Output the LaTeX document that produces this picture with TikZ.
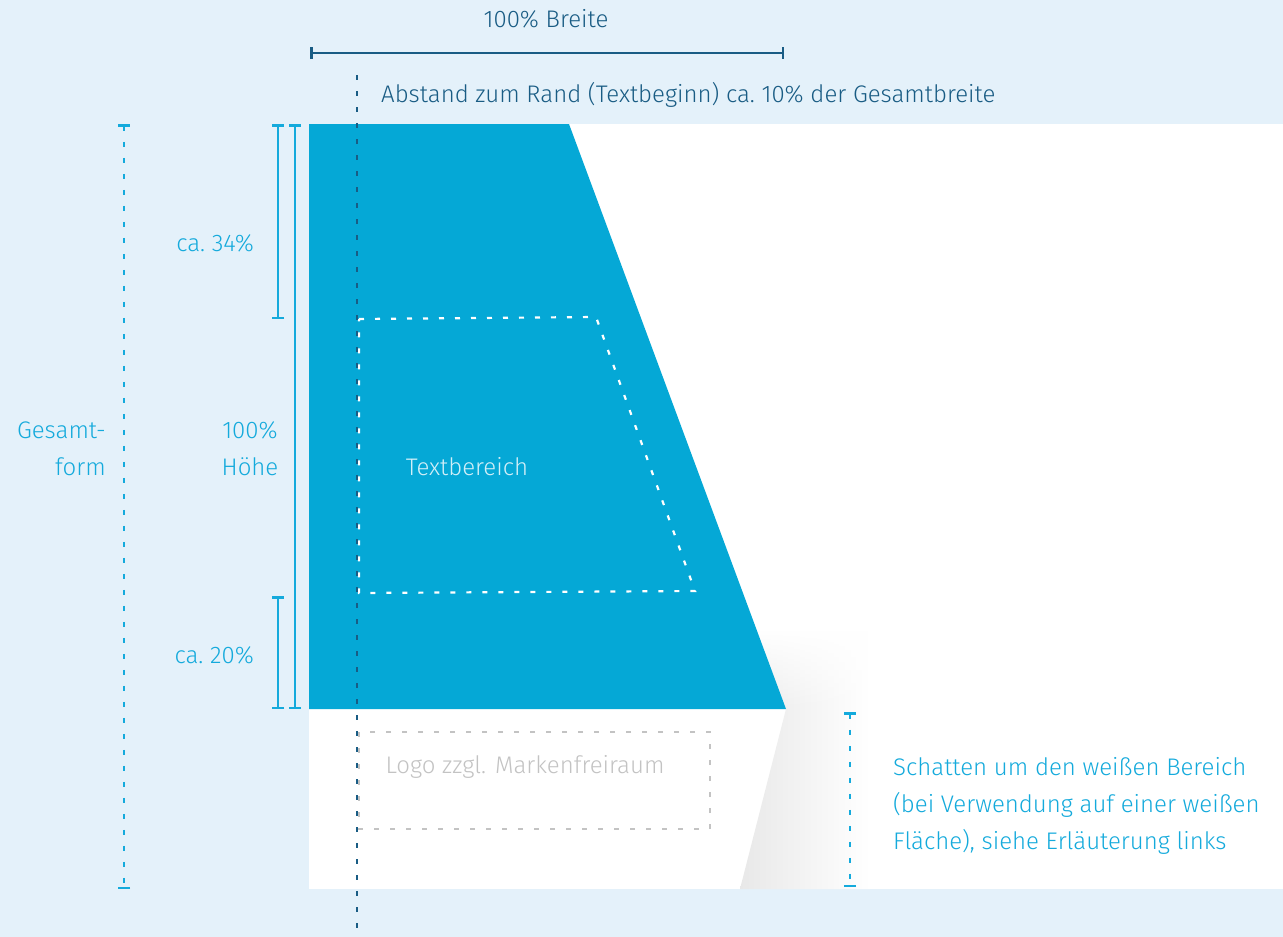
\documentclass[tikz,border=0pt]{standalone}
\usepackage{fontspec}
\setmainfont{Fira Sans}[UprightFont=* Light]
\usetikzlibrary{arrows.meta,fadings}
\definecolor{bgblue}{RGB}{228,241,250}
\definecolor{shapeblue}{RGB}{5,168,214}
\definecolor{lblue}{RGB}{20,170,220}
\definecolor{dblue}{RGB}{25,92,132}
\definecolor{logogray}{RGB}{195,195,195}
\begin{document}
\begin{tikzpicture}[x=1pt,y=-1pt,
  lbl/.style={font=\fontsize{24}{37}\selectfont, inner sep=0pt},
  solidbar/.style={line width=2pt, color=lblue, {Bar[width=12pt,line width=2.5pt]}-{Bar[width=12pt,line width=2.5pt]}},
  dotbar/.style={line width=2.8pt, color=lblue, dash pattern=on 5pt off 11pt, {Bar[width=12pt,line width=2.5pt]}-{Bar[width=12pt,line width=2.5pt]}},
  widthbar/.style={line width=2.4pt, color=dblue, {Bar[width=12pt,line width=2.5pt]}-{Bar[width=12pt,line width=2.5pt]}},
  marginline/.style={line width=2.8pt, color=dblue, dash pattern=on 5pt off 11pt},
  textarea/.style={line width=2.2pt, color=white, dash pattern=on 5pt off 11pt},
  logoarea/.style={line width=2.2pt, color=logogray, dash pattern=on 5pt off 11pt},
  shadowshade/.style={left color=black!9, right color=white}
]
\useasboundingbox (0,0) rectangle (1283,937);
\fill[bgblue] (0,0) rectangle (1283,937);
\fill[white] (309,124) rectangle (1283,889);
% shadow
\begin{scope}
  \clip (786,709) -- (740,889) -- (880,889) -- (880,709) -- cycle;
  \shade[shadowshade] (740,600) rectangle (870,889);
\end{scope}
\begin{scope}
  \clip (755,630) -- (786,709) -- (880,709) -- (880,630) -- cycle;
  \shade[shadowshade, path fading=north] (740,630) rectangle (870,709);
\end{scope}
% blue shape
\fill[shapeblue] (309,124) -- (569,124) -- (786,709) -- (309,709) -- cycle;
% text area
\draw[textarea] (359,319) -- (596,317) -- (695,591) -- (359,593) -- cycle;
\node[lbl, text=white!82!shapeblue] (textbereich) at (467,467) {Textbereich};
% logo area
\draw[logoarea] (359,732) rectangle (710,829);
\node[lbl, text=logogray] (logo) at (525,767) {Logo zzgl. Markenfreiraum};
% margin line
\coordinate (mtop) at (357,75);
\coordinate (mbot) at (357,940);
\draw[marginline] (mtop) -- (mbot);
% width bar
\coordinate (wl) at (310,53);
\coordinate (wr) at (784,53);
\draw[widthbar] (wl) -- (wr);
\node[lbl, text=dblue] (breite) at (546,19) {100\% Breite};
\node[lbl, text=dblue, anchor=west] (abstand) at (381,95) {Abstand zum Rand (Textbeginn) ca.\ 10\% der Gesamtbreite};
% left bars
\coordinate (gtop) at (124,124);
\coordinate (gbot) at (124,889);
\draw[dotbar] (gtop) -- (gbot);
\coordinate (h34t) at (278,124);
\coordinate (h34b) at (278,319);
\draw[solidbar] (h34t) -- (h34b);
\coordinate (h100t) at (295,124);
\coordinate (h100b) at (295,709);
\draw[solidbar] (h100t) -- (h100b);
\coordinate (h20t) at (278,596);
\coordinate (h20b) at (278,709);
\draw[solidbar] (h20t) -- (h20b);
\coordinate (stop) at (850,712);
\coordinate (sbot) at (850,887);
\draw[dotbar] (stop) -- (sbot);
% labels
\node[lbl, text=lblue, align=right, anchor=east] (gesamt) at (106,449) {Gesamt-\\form};
\node[lbl, text=lblue, align=center] (hoehe) at (250,449) {100\%\\Höhe};
\node[lbl, text=lblue, anchor=east] (c34) at (254,243) {ca.\ 34\%};
\node[lbl, text=lblue, anchor=east] (c20) at (254,655) {ca.\ 20\%};
\node[lbl, text=lblue, align=left, anchor=west] (schatten) at (893,806) {Schatten um den weißen Bereich\\(bei Verwendung auf einer weißen\\Fläche), siehe Erläuterung links};
\end{tikzpicture}
\end{document}
